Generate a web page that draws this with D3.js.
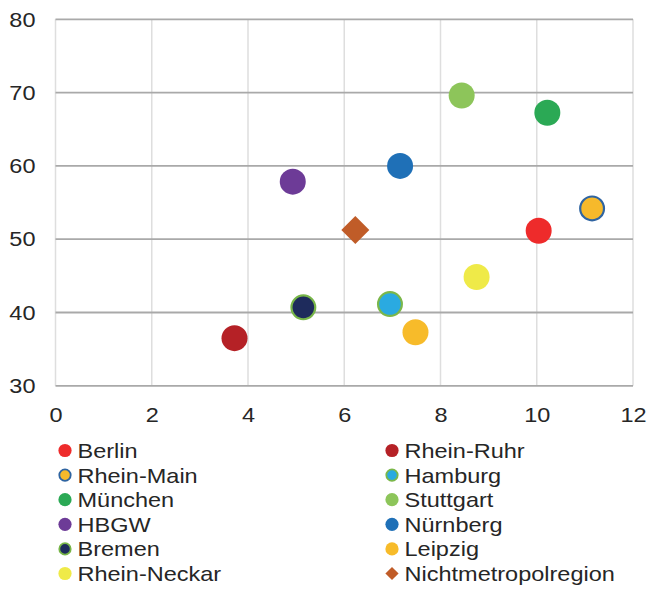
<!DOCTYPE html>
<html>
<head>
<meta charset="utf-8">
<script src="https://cdn.jsdelivr.net/npm/d3@7"></script>
<style>
  html, body { margin: 0; padding: 0; background: #fff; }
  svg { display: block; font-family: "Liberation Sans", Arial, sans-serif; }
</style>
</head>
<body>
<svg id="chart" width="649" height="589"></svg>
<script>
// Regions, in legend order (row by row, two columns)
const regions = ["Berlin", "Rhein-Ruhr", "Rhein-Main", "Hamburg", "München", "Stuttgart",
                 "HBGW", "Nürnberg", "Bremen", "Leipzig", "Rhein-Neckar", "Nichtmetropolregion"];
const xValues = [10.04, 3.72, 11.15, 6.95, 10.22, 8.44, 4.93, 7.16, 5.15, 7.48, 8.75, 6.23];
const yValues = [51.15, 36.5, 54.2, 41.15, 67.25, 69.6, 57.85, 60.0, 40.7, 37.3, 44.85, 51.25];
const fillColors = ["#ee2b2b", "#b52126", "#f6b92b", "#2aaae1", "#2ba955", "#8dc55a",
                    "#6d3b97", "#1f70b7", "#1e2b5c", "#f7bb2a", "#efea48", "#c05c28"];
const strokeColors = [null, null, "#2f64a1", "#7bb74a", null, null,
                      null, null, "#77b548", null, null, null];
const markerShapes = ["circle", "circle", "circle", "circle", "circle", "circle",
                      "circle", "circle", "circle", "circle", "circle", "diamond"];

const xTicks = [0, 2, 4, 6, 8, 10, 12];
const yTicks = [30, 40, 50, 60, 70, 80];

const svg = d3.select("#chart");
const plot = { left: 55.5, right: 633, top: 19.3, bottom: 385.8 };

const x = d3.scaleLinear().domain([0, 12]).range([plot.left, plot.right]);
const y = d3.scaleLinear().domain([30, 80]).range([plot.bottom, plot.top]);

const textColor = "#262626";
const fontSize = 21;
const stretch = 1.12; // horizontal widening of all labels

// Vertical gridlines (light)
svg.append("g")
  .selectAll("line")
  .data(xTicks)
  .join("line")
  .attr("x1", d => x(d)).attr("x2", d => x(d))
  .attr("y1", plot.top).attr("y2", plot.bottom)
  .attr("stroke", "#dedede")
  .attr("stroke-width", 1.5);

// Horizontal gridlines (darker)
svg.append("g")
  .selectAll("line")
  .data(yTicks)
  .join("line")
  .attr("x1", plot.left).attr("x2", plot.right)
  .attr("y1", d => y(d)).attr("y2", d => y(d))
  .attr("stroke", "#a9a9a9")
  .attr("stroke-width", 1.8);

// Y axis labels
const yAxis = d3.axisLeft(y).tickValues(yTicks).tickSize(0).tickPadding(0);
svg.append("g")
  .attr("transform", `translate(${plot.left - 20},0)`)
  .call(yAxis)
  .call(g => g.select(".domain").remove())
  .call(g => g.selectAll(".tick text")
    .attr("x", 0)
    .attr("transform", `scale(${stretch},1)`)
    .attr("font-size", fontSize)
    .attr("fill", textColor)
    .attr("font-family", "Liberation Sans, Arial, sans-serif"));

// X axis labels
const xAxis = d3.axisBottom(x).tickValues(xTicks).tickSize(0).tickPadding(21);
svg.append("g")
  .attr("transform", `translate(0,${plot.bottom})`)
  .call(xAxis)
  .call(g => g.select(".domain").remove())
  .call(g => g.selectAll(".tick text")
    .attr("transform", `scale(${stretch},1)`)
    .attr("font-size", fontSize)
    .attr("fill", textColor)
    .attr("font-family", "Liberation Sans, Arial, sans-serif"));

// Marker helper
function drawMarker(sel, shape, cx, cy, r, fill, stroke, sw) {
  if (shape === "diamond") {
    sel.append("path")
      .attr("d", `M${cx},${cy - r}L${cx + r},${cy}L${cx},${cy + r}L${cx - r},${cy}Z`)
      .attr("fill", fill);
  } else {
    sel.append("circle")
      .attr("cx", cx).attr("cy", cy)
      .attr("r", stroke ? r - sw / 2 : r)
      .attr("fill", fill)
      .attr("stroke", stroke || "none")
      .attr("stroke-width", stroke ? sw : 0);
  }
}

// Data points
const points = svg.append("g");
regions.forEach((name, i) => {
  const r = markerShapes[i] === "diamond" ? 14 : 13;
  drawMarker(points, markerShapes[i], x(xValues[i]), y(yValues[i]), r,
             fillColors[i], strokeColors[i], 2.2);
});

// Legend: two columns
const legend = svg.append("g");
const colMarkerX = [65, 392];
const rowY0 = 450.5, rowStep = 24.6;
regions.forEach((name, i) => {
  const col = i % 2, row = Math.floor(i / 2);
  const cy = rowY0 + row * rowStep;
  const cx = colMarkerX[col];
  drawMarker(legend, markerShapes[i], cx, cy, 6.6, fillColors[i], strokeColors[i], 1.8);
  legend.append("text")
    .attr("transform", `translate(${cx + 12.5},${cy}) scale(${stretch},1)`)
    .attr("dy", "0.36em")
    .attr("font-size", fontSize)
    .attr("fill", textColor)
    .text(name);
});
</script>
</body>
</html>
